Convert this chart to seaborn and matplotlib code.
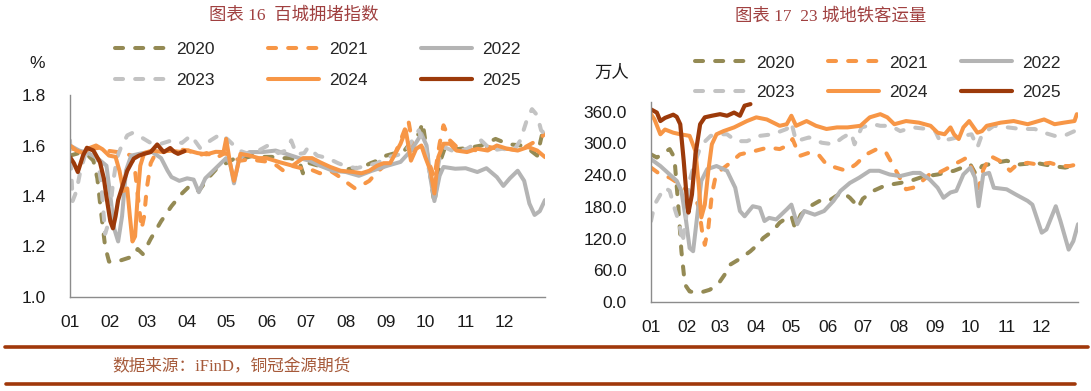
import numpy as np
import pandas as pd
import matplotlib
matplotlib.use("Agg")
import matplotlib.pyplot as plt
import seaborn as sns
from matplotlib.lines import Line2D

sns.set_style("white")
plt.rcParams["font.family"] = ["Liberation Sans", "Noto Sans CJK SC", "DejaVu Sans"]

# ---------------- data ----------------
years = ["2020", "2021", "2022", "2023", "2024", "2025"]
month_labels = ["01", "02", "03", "04", "05", "06", "07", "08", "09", "10", "11", "12"]
month_starts = [0, 31, 59, 90, 120, 151, 181, 212, 243, 273, 304, 334, 365]

# 百城拥堵指数 (day of year, value)
cong_2020_d = [0, 7, 14, 18, 21, 24, 27, 30, 36, 42, 48, 52, 56, 62, 70, 78, 86, 92, 99, 106, 113, 120, 127, 134, 141,
               148, 155, 162, 169, 176, 179, 184, 191, 198, 205, 212, 218, 225, 231, 236, 243, 250, 257, 263, 268, 271,
               275, 280, 284, 288, 296, 306, 316, 327, 337, 347, 354, 359, 363]
cong_2020_v = [1.56, 1.57, 1.56, 1.54, 1.47, 1.33, 1.20, 1.14, 1.14, 1.15, 1.16, 1.19, 1.17, 1.23, 1.30, 1.36, 1.41, 1.44,
               1.42, 1.47, 1.51, 1.53, 1.55, 1.55, 1.56, 1.555, 1.555, 1.55, 1.55, 1.54, 1.49, 1.53, 1.52, 1.515, 1.50,
               1.505, 1.51, 1.515, 1.53, 1.54, 1.56, 1.57, 1.58, 1.62, 1.646, 1.69, 1.55, 1.37, 1.53, 1.59, 1.585, 1.59,
               1.60, 1.626, 1.605, 1.60, 1.58, 1.56, 1.65]
cong_2021_d = [0, 7, 14, 21, 28, 35, 42, 47, 50, 53, 55, 57, 59, 62, 66, 70, 77, 84, 91, 98, 105, 112, 119, 126, 131, 138,
               145, 153, 159, 164, 170, 178, 185, 192, 200, 206, 211, 219, 225, 230, 236, 244, 250, 254, 260, 264, 270,
               274, 280, 284, 287, 292, 297, 305, 313, 321, 329, 337, 345, 352, 359, 365]
cong_2021_v = [1.59, 1.58, 1.585, 1.59, 1.58, 1.575, 1.57, 1.56, 1.50, 1.36, 1.27, 1.32, 1.43, 1.53, 1.57, 1.575, 1.58,
               1.585, 1.58, 1.56, 1.57, 1.55, 1.57, 1.55, 1.54, 1.545, 1.54, 1.535, 1.52, 1.50, 1.52, 1.51, 1.505, 1.49,
               1.50, 1.48, 1.46, 1.43, 1.445, 1.46, 1.495, 1.53, 1.57, 1.62, 1.70, 1.58, 1.60, 1.555, 1.475, 1.607, 1.68,
               1.62, 1.595, 1.587, 1.58, 1.595, 1.587, 1.587, 1.58, 1.60, 1.62, 1.646]
cong_2022_d = [0, 7, 14, 21, 28, 31, 34, 37, 40, 43, 47, 56, 63, 70, 75, 78, 84, 90, 95, 99, 104, 110, 116, 120, 123, 126,
               130, 138, 148, 158, 166, 176, 184, 192, 202, 212, 222, 232, 244, 254, 262, 267, 270, 274, 277, 280, 284,
               287, 296, 304, 313, 320, 328, 333, 338, 344, 349, 353, 357, 361, 365]
cong_2022_v = [1.60, 1.58, 1.57, 1.55, 1.52, 1.40, 1.27, 1.22, 1.32, 1.50, 1.56, 1.57, 1.575, 1.55, 1.50, 1.475, 1.46,
               1.47, 1.465, 1.415, 1.47, 1.50, 1.53, 1.55, 1.53, 1.45, 1.55, 1.574, 1.574, 1.58, 1.567, 1.55, 1.54, 1.52,
               1.50, 1.495, 1.48, 1.50, 1.52, 1.535, 1.58, 1.62, 1.646, 1.60, 1.47, 1.38, 1.48, 1.515, 1.508, 1.51,
               1.495, 1.51, 1.475, 1.44, 1.47, 1.50, 1.46, 1.37, 1.325, 1.34, 1.384]
cong_2023_d = [0, 2, 5, 8, 12, 17, 21, 24, 27, 30, 33, 36, 39, 44, 48, 54, 62, 70, 78, 86, 93, 100, 108, 116, 122, 130,
               138, 145, 152, 160, 166, 170, 174, 180, 183, 190, 198, 206, 211, 220, 228, 236, 244, 250, 257, 263, 268,
               272, 276, 280, 284, 288, 296, 305, 316, 324, 332, 341, 346, 351, 355, 359, 362, 365]
cong_2023_v = [1.62, 1.38, 1.42, 1.50, 1.57, 1.58, 1.55, 1.45, 1.25, 1.30, 1.45, 1.55, 1.59, 1.64, 1.65, 1.635, 1.61,
               1.607, 1.62, 1.61, 1.64, 1.59, 1.62, 1.646, 1.62, 1.58, 1.565, 1.58, 1.60, 1.57, 1.58, 1.62, 1.565, 1.57,
               1.593, 1.56, 1.55, 1.53, 1.52, 1.51, 1.52, 1.53, 1.554, 1.56, 1.57, 1.62, 1.66, 1.60, 1.50, 1.436, 1.55,
               1.593, 1.574, 1.587, 1.62, 1.58, 1.587, 1.58, 1.62, 1.70, 1.744, 1.72, 1.66, 1.646]
cong_2024_d = [0, 5, 10, 15, 20, 25, 30, 35, 38, 41, 44, 46, 48, 50, 52, 54, 57, 63, 70, 77, 84, 91, 98, 105, 112, 118,
               120, 123, 126, 128, 131, 138, 145, 151, 161, 171, 179, 186, 192, 200, 208, 218, 224, 230, 236, 241, 246,
               254, 258, 262, 266, 270, 273, 277, 280, 283, 287, 292, 297, 305, 313, 321, 328, 336, 344, 352, 359, 365]
cong_2024_v = [1.60, 1.58, 1.57, 1.59, 1.60, 1.585, 1.56, 1.555, 1.50, 1.42, 1.43, 1.32, 1.22, 1.24, 1.40, 1.52, 1.57,
               1.58, 1.575, 1.58, 1.575, 1.58, 1.57, 1.565, 1.575, 1.574, 1.626, 1.53, 1.46, 1.50, 1.567, 1.56, 1.55,
               1.55, 1.534, 1.52, 1.55, 1.55, 1.534, 1.515, 1.50, 1.495, 1.49, 1.50, 1.52, 1.53, 1.53, 1.607, 1.66, 1.54,
               1.587, 1.60, 1.554, 1.50, 1.41, 1.554, 1.607, 1.607, 1.58, 1.574, 1.587, 1.58, 1.60, 1.587, 1.58, 1.594,
               1.58, 1.554]
cong_2025_d = [0, 3, 6, 10, 13, 18, 23, 26, 28, 31, 33, 35, 37, 41, 44, 49, 53, 57, 62, 67, 72, 77, 80, 83, 88]
cong_2025_v = [1.554, 1.53, 1.495, 1.56, 1.591, 1.58, 1.534, 1.47, 1.397, 1.30, 1.272, 1.32, 1.384, 1.45, 1.50, 1.548,
               1.56, 1.567, 1.574, 1.604, 1.574, 1.59, 1.575, 1.567, 1.578]

# 23城地铁客运量 (day of year, 万人)
metro_2020_d = [0, 5, 11, 16, 20, 23, 26, 29, 33, 38, 44, 50, 54, 59, 64, 68, 77, 85, 92, 96, 104, 110, 116, 120, 123,
                128, 136, 144, 152, 158, 164, 170, 175, 177, 181, 190, 198, 205, 213, 222, 230, 236, 245, 259, 273, 278,
                283, 292, 304, 315, 329, 343, 354, 362, 365]
metro_2020_v = [279, 273, 282, 289, 273, 191, 96, 33, 20, 18, 19, 23, 28, 39, 55, 71, 83, 96, 110, 121, 134, 150, 159,
                163, 140, 165, 181, 191, 191, 200, 207, 197, 185, 178, 195, 210, 218, 222, 225, 229, 235, 238, 241, 248,
                260, 240, 257, 262, 267, 260, 263, 257, 254, 258, 263]
metro_2021_d = [0, 8, 16, 25, 31, 37, 41, 44, 46, 49, 52, 55, 59, 66, 76, 88, 100, 110, 116, 121, 127, 135, 143, 150,
                158, 167, 175, 184, 193, 201, 208, 214, 218, 224, 232, 238, 243, 252, 259, 266, 270, 275, 280, 284, 290,
                298, 307, 313, 322, 330, 341, 350, 358, 364]
metro_2021_v = [254, 241, 235, 222, 210, 203, 178, 128, 108, 140, 203, 235, 248, 260, 279, 285, 292, 289, 295, 308, 276,
                282, 279, 260, 254, 248, 260, 279, 289, 282, 254, 229, 213, 216, 229, 241, 241, 251, 260, 268, 273, 248,
                215, 250, 276, 267, 248, 260, 263, 260, 263, 257, 257, 260]
metro_2022_d = [0, 8, 16, 22, 26, 30, 33, 36, 39, 43, 48, 56, 65, 72, 76, 80, 87, 93, 97, 101, 107, 116, 120, 125, 131,
                140, 148, 156, 162, 170, 178, 187, 195, 204, 213, 224, 230, 238, 245, 250, 256, 261, 267, 273, 277, 280,
                284, 289, 293, 304, 312, 322, 326, 334, 338, 346, 350, 357, 361, 365]
metro_2022_v = [270, 257, 241, 229, 210, 153, 102, 96, 153, 229, 251, 257, 248, 216, 172, 162, 181, 178, 153, 159, 156,
                175, 184, 147, 172, 165, 172, 191, 210, 225, 235, 248, 248, 241, 238, 244, 244, 232, 216, 197, 207, 210,
                241, 254, 235, 181, 241, 244, 216, 213, 203, 191, 184, 131, 137, 181, 153, 99, 115, 147]
metro_2023_d = [0, 3, 8, 12, 16, 20, 24, 27, 30, 33, 37, 41, 45, 51, 59, 65, 73, 82, 93, 104, 116, 120, 124, 135, 146,
                156, 164, 171, 174, 180, 190, 196, 205, 213, 224, 236, 243, 247, 256, 267, 274, 279, 283, 293, 305, 316,
                328, 336, 345, 353, 362, 364]
metro_2023_v = [153, 184, 203, 216, 210, 178, 150, 112, 160, 230, 260, 285, 301, 314, 317, 317, 304, 304, 314, 317, 327,
                339, 304, 311, 301, 298, 311, 320, 298, 330, 336, 333, 333, 323, 330, 327, 323, 304, 308, 314, 317, 292,
                317, 333, 330, 327, 327, 320, 314, 314, 323, 333]
metro_2024_d = [0, 3, 8, 12, 19, 25, 33, 38, 41, 43, 46, 49, 52, 56, 62, 71, 82, 90, 99, 110, 116, 120, 124, 133, 141,
                150, 159, 168, 179, 187, 196, 202, 208, 218, 229, 239, 245, 251, 256, 259, 263, 267, 272, 279, 283, 287,
                299, 310, 322, 336, 345, 353, 362, 364]
metro_2024_v = [355, 345, 317, 326, 320, 317, 314, 285, 216, 160, 184, 248, 298, 317, 323, 330, 342, 349, 345, 333, 336,
                352, 333, 342, 333, 327, 330, 330, 333, 349, 355, 349, 336, 342, 339, 333, 320, 317, 330, 317, 308, 330,
                342, 320, 323, 333, 339, 342, 336, 345, 336, 339, 342, 355]
metro_2025_d = [0, 5, 8, 12, 19, 22, 25, 28, 31, 32, 35, 38, 42, 46, 52, 59, 65, 71, 76, 80, 85]
metro_2025_v = [364, 358, 342, 348, 354, 350, 336, 266, 184, 169, 203, 279, 336, 349, 352, 355, 352, 358, 352, 371, 374]

cong = {"2020": (cong_2020_d, cong_2020_v), "2021": (cong_2021_d, cong_2021_v), "2022": (cong_2022_d, cong_2022_v),
        "2023": (cong_2023_d, cong_2023_v), "2024": (cong_2024_d, cong_2024_v), "2025": (cong_2025_d, cong_2025_v)}
metro = {"2020": (metro_2020_d, metro_2020_v), "2021": (metro_2021_d, metro_2021_v),
         "2022": (metro_2022_d, metro_2022_v), "2023": (metro_2023_d, metro_2023_v),
         "2024": (metro_2024_d, metro_2024_v), "2025": (metro_2025_d, metro_2025_v)}

# ---------------- styles ----------------
DASH = (0, (2.0, 3.0))
styles = {
    "2020": dict(color="#948A54", linestyle=DASH, lw=2.9),
    "2021": dict(color="#F79646", linestyle=DASH, lw=2.9),
    "2022": dict(color="#B4B4B4", linestyle="-", lw=2.9),
    "2023": dict(color="#C3C3C3", linestyle=DASH, lw=2.9),
    "2024": dict(color="#F79646", linestyle="-", lw=2.9),
    "2025": dict(color="#9C3A0A", linestyle="-", lw=3.0),
}
SPINE = "#8C8C8C"
TXT = "#1a1a1a"
TITLE_C = "#A04040"
W, H = 1091, 391

fig = plt.figure(figsize=(W / 100, H / 100), dpi=100)


def fx(px):
    return px / W


def fy(py):
    return 1 - py / H


def draw(ax, data, ylim, yticks, yfmt):
    handles = {}
    for yr in years:
        d, v = data[yr]
        st = styles[yr]
        df = pd.DataFrame({"day": d, "val": v})
        sns.lineplot(data=df, x="day", y="val", ax=ax, color=st["color"], linewidth=st["lw"],
                     linestyle=st["linestyle"], dash_capstyle="round", solid_capstyle="round",
                     solid_joinstyle="round", errorbar=None, legend=False, sort=False)
        handles[yr] = ax.lines[-1]
    ax.set_xlim(0, 365)
    ax.set_ylim(*ylim)
    ax.set_xticks(month_starts)
    ax.set_xticklabels(month_labels + [""])
    ax.set_yticks(yticks)
    ax.set_yticklabels([yfmt.format(t) for t in yticks])
    ax.set_xlabel("")
    ax.set_ylabel("")
    for s in ["top", "right"]:
        ax.spines[s].set_visible(False)
    for s in ["left", "bottom"]:
        ax.spines[s].set_color(SPINE)
        ax.spines[s].set_linewidth(1.0)
    ax.tick_params(axis="both", direction="out", length=5, width=1, color=SPINE, labelsize=12.5,
                   labelcolor=TXT)
    ax.tick_params(axis="x", pad=8)
    ax.tick_params(axis="y", pad=12.5)
    ax.grid(False)
    ax.patch.set_alpha(0)
    return handles


ax1 = fig.add_axes([fx(70), fy(297), fx(475), 202 / H])
h1 = draw(ax1, cong, (1.0, 1.8), [1.0, 1.2, 1.4, 1.6, 1.8], "{:.1f}")
ax2 = fig.add_axes([fx(651), fy(302), fx(427), 200 / H])
h2 = draw(ax2, metro, (0, 378), [0, 60, 120, 180, 240, 300, 360], "{:.1f}")

order = ["2020", "2023", "2021", "2024", "2022", "2025"]
fig.legend([h1[y] for y in order], order, loc="center", bbox_to_anchor=(fx(318), fy(65)), ncol=3,
           frameon=False, fontsize=12.5, handlelength=2.93, handletextpad=0.6, columnspacing=3.05,
           labelspacing=0.92, borderpad=0, borderaxespad=0)
fig.legend([h2[y] for y in order], order, loc="center", bbox_to_anchor=(fx(878), fy(77.5)), ncol=3,
           frameon=False, fontsize=12.5, handlelength=2.93, handletextpad=0.6, columnspacing=1.9,
           labelspacing=0.8, borderpad=0, borderaxespad=0)

# titles and unit labels
title_font = ["Liberation Serif", "Noto Sans CJK SC"]
fig.text(fx(294), fy(16), "图表 16  百城拥堵指数", ha="center", va="center", fontsize=12.5,
         color=TITLE_C, family=title_font)
fig.text(fx(831), fy(16), "图表 17  23 城地铁客运量", ha="center", va="center", fontsize=12.5,
         color=TITLE_C, family=title_font)
fig.text(fx(37), fy(63), "%", ha="center", va="center", fontsize=12.5, color=TXT)
fig.text(fx(612), fy(73), "万人", ha="center", va="center", fontsize=12.5, color=TXT,
         family=["Noto Sans CJK SC"])

# footer
RULE = "#A0380A"
fig.add_artist(Line2D([fx(5), fx(1088)], [fy(347), fy(347)], color=RULE, lw=2.6))
fig.add_artist(Line2D([fx(6), fx(1075)], [fy(384), fy(384)], color=RULE, lw=2.6))
fig.text(fx(112), fy(366), "数据来源：iFinD，铜冠金源期货", ha="left", va="center", fontsize=12,
         color="#A65A3A", family=title_font)

fig.savefig("out.png", dpi=100)
